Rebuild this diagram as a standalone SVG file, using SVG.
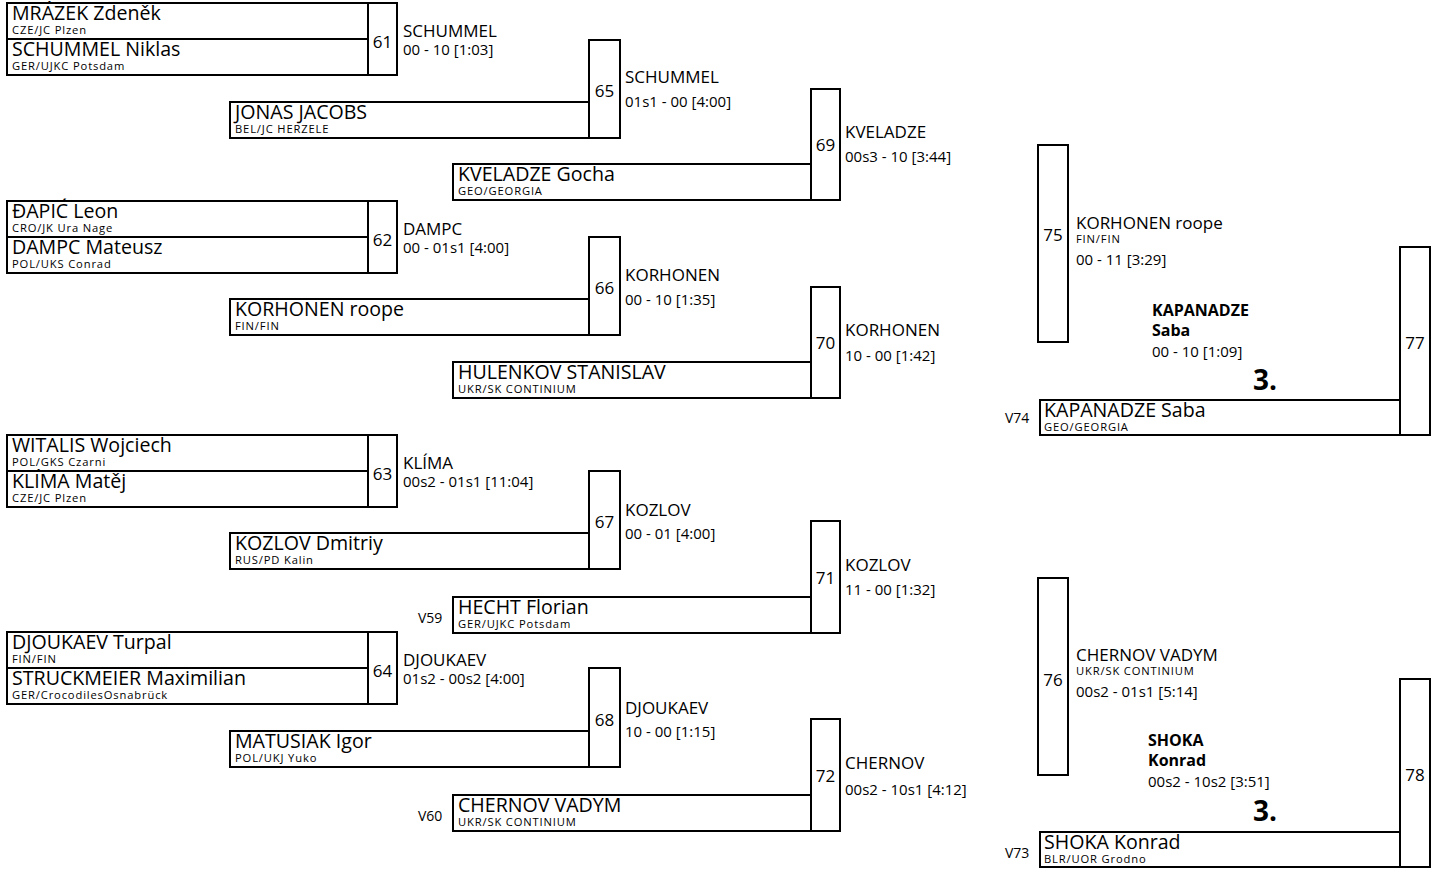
<svg xmlns="http://www.w3.org/2000/svg" width="1437" height="871" viewBox="0 0 1437 871">
<style>
.b{fill:#fff;stroke:#000;stroke-width:2}
text{font-family:"Open Sans","Noto Sans","Liberation Sans",sans-serif;fill:#000}
.n{font-size:19.6px}
.c{font-size:11.2px;letter-spacing:0.85px}
.l{font-size:17px}
.s{font-size:15px}
.m{font-size:17px;text-anchor:middle}
.w{font-size:16px;font-weight:bold}
.p{font-size:28px;font-weight:bold}
.v{font-size:14px}
</style>
<rect width="1437" height="871" fill="#fff"/>
<g id="connectors"></g>

<g id="m61">
<rect class="b" x="7" y="3" width="361" height="36"/><rect class="b" x="7" y="39" width="361" height="36"/><rect class="b" x="368" y="3" width="29" height="72"/>
<text class="n" x="12" y="20">MRÁZEK Zdeněk</text><text class="c" x="12" y="34">CZE/JC Plzen</text>
<text class="n" x="12" y="56">SCHUMMEL Niklas</text><text class="c" x="12" y="70">GER/UJKC Potsdam</text>
<text class="m" x="382.5" y="48">61</text>
<text class="l" x="403" y="37">SCHUMMEL</text><text class="s" x="403" y="55">00 - 10 [1:03]</text>
</g>
<g id="m62">
<rect class="b" x="7" y="201" width="361" height="36"/><rect class="b" x="7" y="237" width="361" height="36"/><rect class="b" x="368" y="201" width="29" height="72"/>
<text class="n" x="12" y="218">ĐAPIĆ Leon</text><text class="c" x="12" y="232">CRO/JK Ura Nage</text>
<text class="n" x="12" y="254">DAMPC Mateusz</text><text class="c" x="12" y="268">POL/UKS Conrad</text>
<text class="m" x="382.5" y="246">62</text>
<text class="l" x="403" y="235">DAMPC</text><text class="s" x="403" y="253">00 - 01s1 [4:00]</text>
</g>
<g id="m63">
<rect class="b" x="7" y="435" width="361" height="36"/><rect class="b" x="7" y="471" width="361" height="36"/><rect class="b" x="368" y="435" width="29" height="72"/>
<text class="n" x="12" y="452">WITALIS Wojciech</text><text class="c" x="12" y="466">POL/GKS Czarni</text>
<text class="n" x="12" y="488">KLÍMA Matěj</text><text class="c" x="12" y="502">CZE/JC Plzen</text>
<text class="m" x="382.5" y="480">63</text>
<text class="l" x="403" y="469">KLÍMA</text><text class="s" x="403" y="487">00s2 - 01s1 [11:04]</text>
</g>
<g id="m64">
<rect class="b" x="7" y="632" width="361" height="36"/><rect class="b" x="7" y="668" width="361" height="36"/><rect class="b" x="368" y="632" width="29" height="72"/>
<text class="n" x="12" y="649">DJOUKAEV Turpal</text><text class="c" x="12" y="663">FIN/FIN</text>
<text class="n" x="12" y="685">STRUCKMEIER Maximilian</text><text class="c" x="12" y="699">GER/CrocodilesOsnabrück</text>
<text class="m" x="382.5" y="677">64</text>
<text class="l" x="403" y="666">DJOUKAEV</text><text class="s" x="403" y="684">01s2 - 00s2 [4:00]</text>
</g>

<g id="m65">
<rect class="b" x="230" y="102" width="359" height="36"/><rect class="b" x="589" y="40" width="31" height="98"/>
<text class="n" x="235" y="119">JONAS JACOBS</text><text class="c" x="235" y="133">BEL/JC HERZELE</text>
<text class="m" x="604.5" y="97">65</text>
<text class="l" x="625" y="83">SCHUMMEL</text><text class="s" x="625" y="107">01s1 - 00 [4:00]</text>
</g>
<g id="m66">
<rect class="b" x="230" y="299" width="359" height="36"/><rect class="b" x="589" y="237" width="31" height="98"/>
<text class="n" x="235" y="316">KORHONEN roope</text><text class="c" x="235" y="330">FIN/FIN</text>
<text class="m" x="604.5" y="294">66</text>
<text class="l" x="625" y="281">KORHONEN</text><text class="s" x="625" y="305">00 - 10 [1:35]</text>
</g>
<g id="m67">
<rect class="b" x="230" y="533" width="359" height="36"/><rect class="b" x="589" y="471" width="31" height="98"/>
<text class="n" x="235" y="550">KOZLOV Dmitriy</text><text class="c" x="235" y="564">RUS/PD Kalin</text>
<text class="m" x="604.5" y="528">67</text>
<text class="l" x="625" y="516">KOZLOV</text><text class="s" x="625" y="539">00 - 01 [4:00]</text>
</g>
<g id="m68">
<rect class="b" x="230" y="731" width="359" height="36"/><rect class="b" x="589" y="668" width="31" height="99"/>
<text class="n" x="235" y="748">MATUSIAK Igor</text><text class="c" x="235" y="762">POL/UKJ Yuko</text>
<text class="m" x="604.5" y="726">68</text>
<text class="l" x="625" y="714">DJOUKAEV</text><text class="s" x="625" y="737">10 - 00 [1:15]</text>
</g>

<g id="m69">
<rect class="b" x="453" y="164" width="358" height="36"/><rect class="b" x="811" y="89" width="29" height="111"/>
<text class="n" x="458" y="181">KVELADZE Gocha</text><text class="c" x="458" y="195">GEO/GEORGIA</text>
<text class="m" x="825.5" y="151">69</text>
<text class="l" x="845" y="138">KVELADZE</text><text class="s" x="845" y="162">00s3 - 10 [3:44]</text>
</g>
<g id="m70">
<rect class="b" x="453" y="362" width="358" height="36"/><rect class="b" x="811" y="287" width="29" height="111"/>
<text class="n" x="458" y="379">HULENKOV STANISLAV</text><text class="c" x="458" y="393">UKR/SK CONTINIUM</text>
<text class="m" x="825.5" y="349">70</text>
<text class="l" x="845" y="336">KORHONEN</text><text class="s" x="845" y="361">10 - 00 [1:42]</text>
</g>
<g id="m71">
<rect class="b" x="453" y="597" width="358" height="36"/><rect class="b" x="811" y="521" width="29" height="112"/>
<text class="v" x="418" y="623">V59</text>
<text class="n" x="458" y="614">HECHT Florian</text><text class="c" x="458" y="628">GER/UJKC Potsdam</text>
<text class="m" x="825.5" y="584">71</text>
<text class="l" x="845" y="571">KOZLOV</text><text class="s" x="845" y="595">11 - 00 [1:32]</text>
</g>
<g id="m72">
<rect class="b" x="453" y="795" width="358" height="36"/><rect class="b" x="811" y="719" width="29" height="112"/>
<text class="v" x="418" y="821">V60</text>
<text class="n" x="458" y="812">CHERNOV VADYM</text><text class="c" x="458" y="826">UKR/SK CONTINIUM</text>
<text class="m" x="825.5" y="782">72</text>
<text class="l" x="845" y="769">CHERNOV</text><text class="s" x="845" y="795">00s2 - 10s1 [4:12]</text>
</g>

<g id="m75">
<rect class="b" x="1038" y="145" width="30" height="197"/>
<text class="m" x="1053" y="241">75</text>
<text class="l" x="1076" y="229">KORHONEN roope</text><text class="c" x="1076" y="243">FIN/FIN</text>
<text class="s" x="1076" y="265">00 - 11 [3:29]</text>
</g>
<g id="m77">
<rect class="b" x="1040" y="400" width="360" height="35"/><rect class="b" x="1400" y="247" width="30" height="188"/>
<text class="v" x="1005" y="423">V74</text>
<text class="n" x="1044" y="417">KAPANADZE Saba</text><text class="c" x="1044" y="431">GEO/GEORGIA</text>
<text class="m" x="1415" y="349">77</text>
<text class="w" x="1152" y="316">KAPANADZE</text><text class="w" x="1152" y="336">Saba</text>
<text class="s" x="1152" y="357">00 - 10 [1:09]</text>
<text class="p" x="1253" y="390">3.</text>
</g>
<g id="m76">
<rect class="b" x="1038" y="578" width="30" height="197"/>
<text class="m" x="1053" y="686">76</text>
<text class="l" x="1076" y="661">CHERNOV VADYM</text><text class="c" x="1076" y="675">UKR/SK CONTINIUM</text>
<text class="s" x="1076" y="697">00s2 - 01s1 [5:14]</text>
</g>
<g id="m78">
<rect class="b" x="1040" y="832" width="360" height="35"/><rect class="b" x="1400" y="679" width="30" height="188"/>
<text class="v" x="1005" y="858">V73</text>
<text class="n" x="1044" y="849">SHOKA Konrad</text><text class="c" x="1044" y="863">BLR/UOR Grodno</text>
<text class="m" x="1415" y="781">78</text>
<text class="w" x="1148" y="746">SHOKA</text><text class="w" x="1148" y="766">Konrad</text>
<text class="s" x="1148" y="787">00s2 - 10s2 [3:51]</text>
<text class="p" x="1253" y="821">3.</text>
</g>
</svg>
